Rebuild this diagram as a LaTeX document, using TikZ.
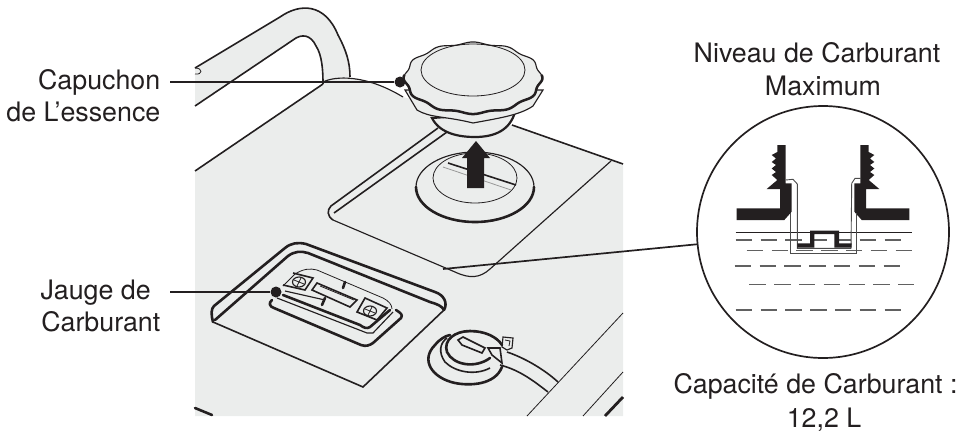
\documentclass[tikz,border=0pt]{standalone}
\usepackage{fontspec}
\setmainfont{TeX Gyre Heros}
\usepackage{tikz}
\usetikzlibrary{positioning,calc}
\definecolor{ink}{HTML}{231F20}
\definecolor{tank}{HTML}{EBEDEC}
\begin{document}
\begin{tikzpicture}[
  x=1pt, y=-1pt,
  lbl/.style={text=ink, align=center, inner sep=0pt, font=\fontsize{26.8}{32.5}\selectfont},
  lblr/.style={lbl, align=right},
  leader/.style={draw=ink, line width=1.7pt},
  dotnode/.style={circle, fill=ink, inner sep=0pt, minimum size=11pt},
  hair/.style={draw=ink, line width=.8pt},
  thin line/.style={draw=ink, line width=1.15pt},
  mid/.style={draw=ink, line width=1.6pt},
  bold/.style={draw=ink, line width=2.6pt, line cap=round, line join=round},
  liquid/.style={draw=black!62, line width=1.1pt, dash pattern=on 16.5pt off 8.3pt},
  tankfill/.style={fill=tank}
]
\useasboundingbox (0,0) rectangle (961,434);

% tank and handle
\fill[tankfill] (195,68) -- (280,17) .. controls (300,3) and (325,3) .. (338,35) .. controls (346,50) and (350,62) .. (350,77) -- (323,84) .. controls (323,70) and (322,55) .. (316,46) .. controls (311,35) and (302,33) .. (293,40) -- (195,106) -- cycle;
\fill[tankfill] (195,171) -- (323,84) .. controls (335,76) and (365,74) .. (403,97) -- (512,125) -- (623,164) -- (623,416) -- (195,416) -- cycle;
\draw[mid] (195,68) -- (280,17) .. controls (300,3) and (325,3) .. (338,35) .. controls (346,50) and (350,62) .. (350,77);
\draw[mid] (195,106) -- (293,40) .. controls (302,33) and (311,35) .. (316,46) .. controls (322,55) and (323,70) .. (323,84);
\draw[mid] (195,171) -- (323,84);
\draw[thin line] (323,82) .. controls (335,76) and (365,74) .. (403,97);
\draw[hair] (195,68) .. controls (203,68) and (203,75) .. (195,74);
\draw[mid] (512,125) -- (623,164);
\draw[bold] (195,408) -- (212,415);
\draw[hair] (623,313) -- (527,416);
\draw[hair] (623,372) -- (583,416);
\draw[draw=ink, line width=2.8pt] (623,397) -- (605,416);

% filler panel
\draw[mid] (447,132) -- (334,213);
\draw[mid] (438,128) -- (331,206) .. controls (327,210) and (327,216) .. (333,220);
\draw[thin line] (333,220) -- (455,272) .. controls (470,279) and (480,278) .. (490,269) -- (611,161);

% filler ring
\draw[thin line] (475,187) ellipse [x radius=59, y radius=35];
\draw[bold] (416,187) arc[start angle=180, end angle=360, x radius=59, y radius=-35];
\draw[hair] (475,178) ellipse [x radius=42, y radius=25];
\draw[mid] (448,163) -- (516,185);
\draw[draw=black!40, line width=.8pt] (443,167) -- (511,190);
\fill[ink] (467,188) -- (467,158) -- (462,158) -- (476,141) -- (490,158) -- (484,158) -- (484,188) -- cycle;

% cap
\filldraw[tankfill, draw=ink, line width=2.2pt] (432,118) .. controls (440,134) and (460,137) .. (475,137) .. controls (495,137) and (510,130) .. (515,112) -- cycle;
\filldraw[tankfill, thin line] (405,90) -- (417,110) .. controls (430,118) and (445,116) .. (473,123) .. controls (500,118) and (520,115) .. (533,106) -- (543,90) -- cycle;
\filldraw[tankfill, thin line] plot[domain=0:360, samples=181, smooth] ({473+68*(1+.022*cos(12*\x))*cos(\x)},{78+35*(1+.03*cos(12*\x))*sin(\x)}) -- cycle;
\draw[draw=ink, line width=2.5pt] plot[domain=-5:185, samples=96, smooth] ({473+68*(1+.022*cos(12*\x))*cos(\x)},{78+35*(1+.03*cos(12*\x))*sin(\x)});
\draw[hair] (473,70) ellipse [x radius=52, y radius=26];

% gauge recess
\draw[bold] (213,322) .. controls (211,314) and (211,309) .. (214,306) -- (285,248) .. controls (291,243) and (298,242) .. (306,244) -- (435,292) .. controls (444,295) and (448,303) .. (444,310);
\draw[bold] (215,320) -- (288,256) .. controls (295,251) and (301,251) .. (308,253) -- (430,302) .. controls (437,304) and (442,306) .. (444,310);
\draw[mid] (213,322) -- (363,387) -- (444,310);

% gauge
\draw[bold] (272,300) .. controls (268,303) and (270,307) .. (274,308) -- (361,345) .. controls (366,347) and (370,345) .. (373,343) -- (401,318) .. controls (403,315) and (401,313) .. (396,310);
\draw[thin line] (277,298) -- (367,333) -- (373,333) -- (393,312);
\draw[bold] (283,295) -- (360,325) .. controls (364,328) and (367,329) .. (370,327) -- (390,310);
\draw[hair] (283,286) -- (295,274) .. controls (303,269) and (310,268) .. (317,270) -- (383,298) .. controls (389,301) and (392,305) .. (392,309);
\draw[mid] (293,273) -- (313,278) -- (305,290) -- (283,285);
\draw[mid] (365,298) -- (387,308) -- (377,320) -- (357,312) -- cycle;
\draw[mid] (317,283) -- (357,300) -- (350,307) -- (312,290) -- cycle;
\draw[hair] (320,286) -- (354,300);
\draw[bold] (345,282) -- (343,288);
\draw[bold] (325,298) -- (322,305);
\draw[thin line] (285,291) -- (325,300);
\foreach \sx/\sy in {299/282,370/311}{
  \draw[thin line] (\sx,\sy) ellipse [x radius=6.5, y radius=5];
  \draw[hair] (\sx-5,\sy-2) -- (\sx+5,\sy+2) (\sx-2,\sy+4) -- (\sx+2,\sy-4);
}

% fuel valve
\draw[bold] (502,367) .. controls (495,385) and (470,386) .. (455,383) .. controls (432,378) and (420,360) .. (435,345) .. controls (440,339) and (445,336) .. (450,335);
\draw[mid] (490,368) .. controls (475,376) and (455,372) .. (445,362) .. controls (438,352) and (440,343) .. (447,338);
\draw[bold] (490,358) .. controls (475,369) and (453,365) .. (447,352) .. controls (443,340) and (455,331) .. (470,331) .. controls (485,331) and (497,337) .. (502,345);
\draw[thin line] (450,338) .. controls (460,328) and (490,330) .. (500,342);
\draw[mid] (458,340) -- (463,337) -- (485,348) -- (482,353) -- (462,345) -- cycle;
\draw[mid] (488,348) -- (500,348) -- (502,363) -- (492,355) -- cycle;
\draw[thin line] (503,337) -- (513,338) -- (512,348) -- (507,350) -- (502,347) -- cycle;
\draw[hair] (505,340) -- (510,341) -- (509,346);
\draw[mid] (507,352) .. controls (525,358) and (545,370) .. (558,382);
\draw[mid] (500,365) .. controls (520,370) and (535,382) .. (548,392);

% magnified view
\node[circle, draw=ink, line width=1.7pt, minimum size=252pt, inner sep=0pt] (lens) at (823,232) {};
\draw[hair] (735.7,232.3) -- (911.7,232.3);
\foreach \ly/\lx in {240/735.7,250.7/746.7,266/734.7,284.3/749.3,310/735.7}{
  \draw[liquid] (\lx,\ly) -- (\lx+165,\ly);
}
% left and right neck
\foreach \mx/\ms in {0/1,1646/-1}{
\begin{scope}[shift={(\mx,0)}, x=\ms pt]
  \fill[ink] (785.7,145) -- (777.3,145) -- (777.3,152) -- (771.7,155) -- (776,158.5) -- (771.7,162) -- (776,165) -- (771.7,168.5) -- (776,172) -- (771.7,175) -- (777.3,180) -- (766.7,189) -- (780,189) -- (780,208.3) -- (736.7,208.3) -- (736.7,220) -- (784.3,220) -- (791.7,211.7) -- (791.7,183.3) -- (785.7,183.3) -- cycle;
\end{scope}
}
\draw[draw=black!70, line width=.9pt] (785.7,180) -- (793,179.3) -- (797.3,184) -- (797.3,248.3) -- (851,248.3) -- (851.7,183.3) -- (855,178.3) -- (861,178.3);
\draw[draw=black!70, line width=1pt] (790.7,213.3) -- (790.7,253.3) -- (856,253.3) -- (856,213.3);
\fill[ink] (797.3,243.3) -- (810,243.3) -- (810,230.7) -- (839,230.7) -- (839,243.3) -- (851.7,243.3) -- (851.7,247.7) -- (834.3,247.7) -- (834.3,234) -- (814.3,234) -- (814.3,247.7) -- (797.3,247.7) -- cycle;

% callouts
\node[lblr, anchor=base east] (capname) at (160.5,89) {Capuchon};
\node[lblr, anchor=base east] (capname2) at (160.5,121) {de L’essence};
\node[dotnode] (capdot) at (400,82) {};
\coordinate (capend) at (170,82);
\draw[leader] (capend) -- (capdot);
\node[lblr, anchor=base east] (gaugename) at (151,299) {Jauge de};
\node[lblr, anchor=base east] (gaugename2) at (160.5,331) {Carburant};
\node[dotnode] (gaugedot) at (276,292) {};
\coordinate (gaugeend) at (170,292);
\draw[leader] (gaugeend) -- (gaugedot);
\coordinate (panelpt) at (443,269);
\draw[leader] (panelpt) -- (lens);
\node[lbl, anchor=base] (maxname) at (817,62) {Niveau de Carburant};
\node[lbl, anchor=base] (maxname2) at (823,95) {Maximum};
\node[lbl, anchor=base] (volname) at (815.5,393) {Capacité de Carburant :};
\node[lbl, anchor=base] (volname2) at (824,427) {12,2 L};
\end{tikzpicture}
\end{document}
